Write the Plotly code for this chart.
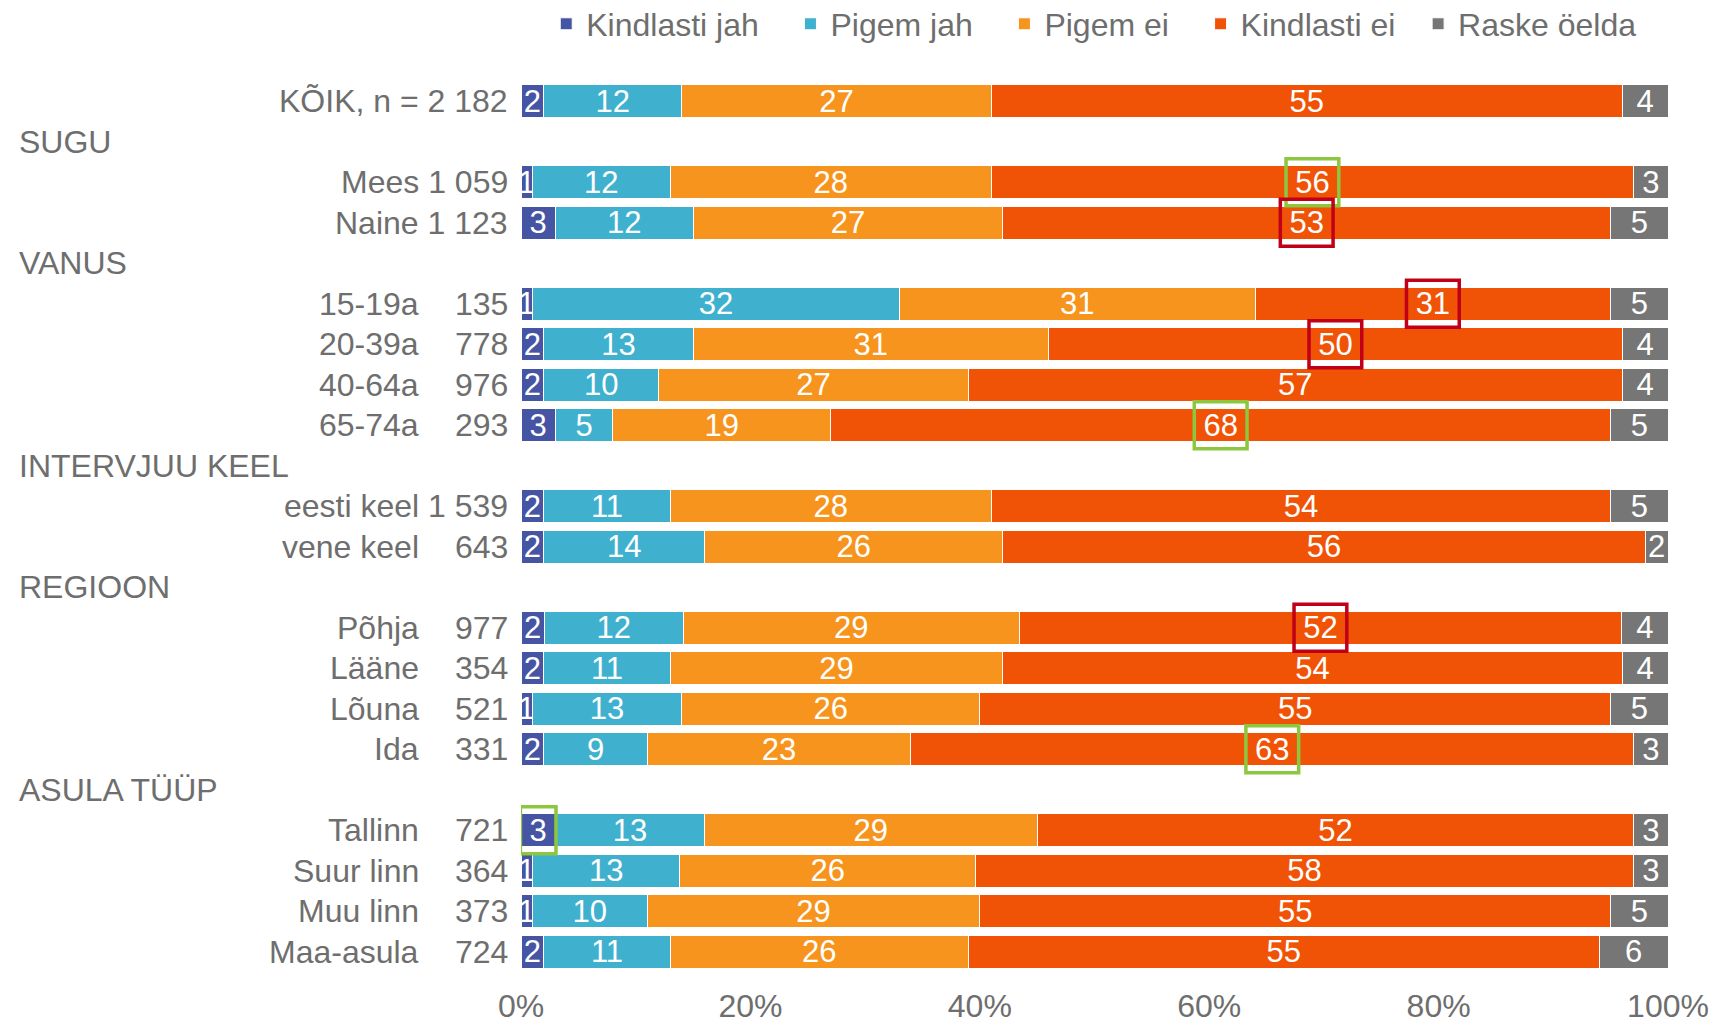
import plotly.graph_objects as go

# ---------------- data ----------------
row_names = ["KÕIK, n = 2 182", "SUGU", "Mees 1 059", "Naine 1 123", "VANUS",
             "15-19a", "20-39a", "40-64a", "65-74a", "INTERVJUU KEEL",
             "eesti keel 1 539", "vene keel", "REGIOON", "Põhja", "Lääne", "Lõuna", "Ida",
             "ASULA TÜÜP", "Tallinn", "Suur linn", "Muu linn", "Maa-asula"]
row_n = ["", "", "", "", "",
         "135", "778", "976", "293", "",
         "", "643", "", "977", "354", "521", "331",
         "", "721", "364", "373", "724"]
header_rows = ["SUGU", "VANUS", "INTERVJUU KEEL", "REGIOON", "ASULA TÜÜP"]

series_names = ["Kindlasti jah", "Pigem jah", "Pigem ei", "Kindlasti ei", "Raske öelda"]
kindlasti_jah = [2, None, 1, 3, None, 1, 2, 2, 3, None, 2, 2, None, 2, 2, 1, 2, None, 3, 1, 1, 2]
pigem_jah     = [12, None, 12, 12, None, 32, 13, 10, 5, None, 11, 14, None, 12, 11, 13, 9, None, 13, 13, 10, 11]
pigem_ei      = [27, None, 28, 27, None, 31, 31, 27, 19, None, 28, 26, None, 29, 29, 26, 23, None, 29, 26, 29, 26]
kindlasti_ei  = [55, None, 56, 53, None, 31, 50, 57, 68, None, 54, 56, None, 52, 54, 55, 63, None, 52, 58, 55, 55]
raske_oelda   = [4, None, 3, 5, None, 5, 4, 4, 5, None, 5, 2, None, 4, 4, 5, 3, None, 3, 3, 5, 6]

# highlighted labels: (row name, series index, colour)
highlights = [("Mees 1 059", 3, "green"), ("Naine 1 123", 3, "red"),
              ("15-19a", 3, "red"), ("20-39a", 3, "red"), ("65-74a", 3, "green"),
              ("Põhja", 3, "red"), ("Ida", 3, "green"), ("Tallinn", 0, "green")]

x_ticks = [0, 20, 40, 60, 80, 100]
x_tick_labels = ["0%", "20%", "40%", "60%", "80%", "100%"]

# ---------------- style ----------------
colors = ["#4654A4", "#3FB1CE", "#F7941D", "#F05305", "#767676"]
box_colors = {"green": "#8DC63F", "red": "#C00018"}
FONT = "Liberation Sans, Arial, sans-serif"
TXT = "#6E6E6E"
FS = 32
BFS = 31
legend_pad = [3, 3, 3, 2, 0]  # extra spacing after legend entries

all_series = [kindlasti_jah, pigem_jah, pigem_ei, kindlasti_ei, raske_oelda]
ypos = list(range(len(row_names)))

fig = go.Figure()
for name, vals, col, pad in zip(series_names, all_series, colors, legend_pad):
    fig.add_trace(go.Bar(
        y=ypos, x=vals, name=name + "\u00a0" * pad, orientation="h",
        marker=dict(color=col, line=dict(color="white", width=1)),
        text=[("" if v is None else str(v)) for v in vals],
        textposition="inside", insidetextanchor="middle", textangle=0,
        textfont=dict(color="white", size=BFS, family=FONT),
        hoverinfo="skip",
    ))

W = 1147.5
L = 520.5
annotations = []
for i, (nm, n) in enumerate(zip(row_names, row_n)):
    if nm in header_rows:
        annotations.append(dict(x=(16 - L) / W, y=i, xref="paper", yref="y",
                                text=nm, showarrow=False, xanchor="left",
                                font=dict(size=FS, color=TXT, family=FONT)))
    elif n == "":
        annotations.append(dict(x=(509 - L) / W, y=i, xref="paper", yref="y",
                                text=nm, showarrow=False, xanchor="right",
                                font=dict(size=FS, color=TXT, family=FONT)))
    else:
        annotations.append(dict(x=(420 - L) / W, y=i, xref="paper", yref="y",
                                text=nm, showarrow=False, xanchor="right",
                                font=dict(size=FS, color=TXT, family=FONT)))
        annotations.append(dict(x=(509 - L) / W, y=i, xref="paper", yref="y",
                                text=n, showarrow=False, xanchor="right",
                                font=dict(size=FS, color=TXT, family=FONT)))

shapes = []
for nm, si, c in highlights:
    r = row_names.index(nm)
    total = sum(all_series[k][r] for k in range(len(all_series)))
    start = sum(all_series[k][r] for k in range(si)) * 100.0 / total
    v = all_series[si][r]
    center = start + v * 100.0 / total / 2
    half = (1.6 + 1.5 * len(str(v))) / 2
    shapes.append(dict(type="rect", xref="x", yref="y",
                       x0=center - half, x1=center + half, y0=r - 0.58, y1=r + 0.58,
                       line=dict(color=box_colors[c], width=3.5), fillcolor="rgba(0,0,0,0)"))

fig.update_layout(
    barmode="stack",
    barnorm="percent",
    bargap=0.19,
    width=1711, height=1023,
    margin=dict(l=L, r=43, t=81, b=51, autoexpand=False),
    paper_bgcolor="white", plot_bgcolor="white",
    font=dict(family=FONT, color=TXT, size=FS),
    uniformtext=dict(minsize=BFS, mode="show"),
    showlegend=True,
    legend=dict(orientation="h", x=0.022, xanchor="left", y=1.064, yanchor="middle",
                font=dict(size=FS, color=TXT, family=FONT), traceorder="normal",
                itemclick=False),
    xaxis=dict(range=[0, 100], tickvals=x_ticks, ticktext=x_tick_labels,
               showgrid=False, zeroline=False, showline=False,
               ticks="outside", ticklen=6, tickcolor="white",
               tickfont=dict(size=FS, color=TXT, family=FONT)),
    yaxis=dict(range=[len(row_names) - 0.5, -0.5], showticklabels=False,
               showgrid=False, zeroline=False, showline=False),
    annotations=annotations,
    shapes=shapes,
)

fig.write_html("out.html", config={"displayModeBar": False},
               post_script="document.body.style.margin='0';document.body.style.overflow='hidden';")
